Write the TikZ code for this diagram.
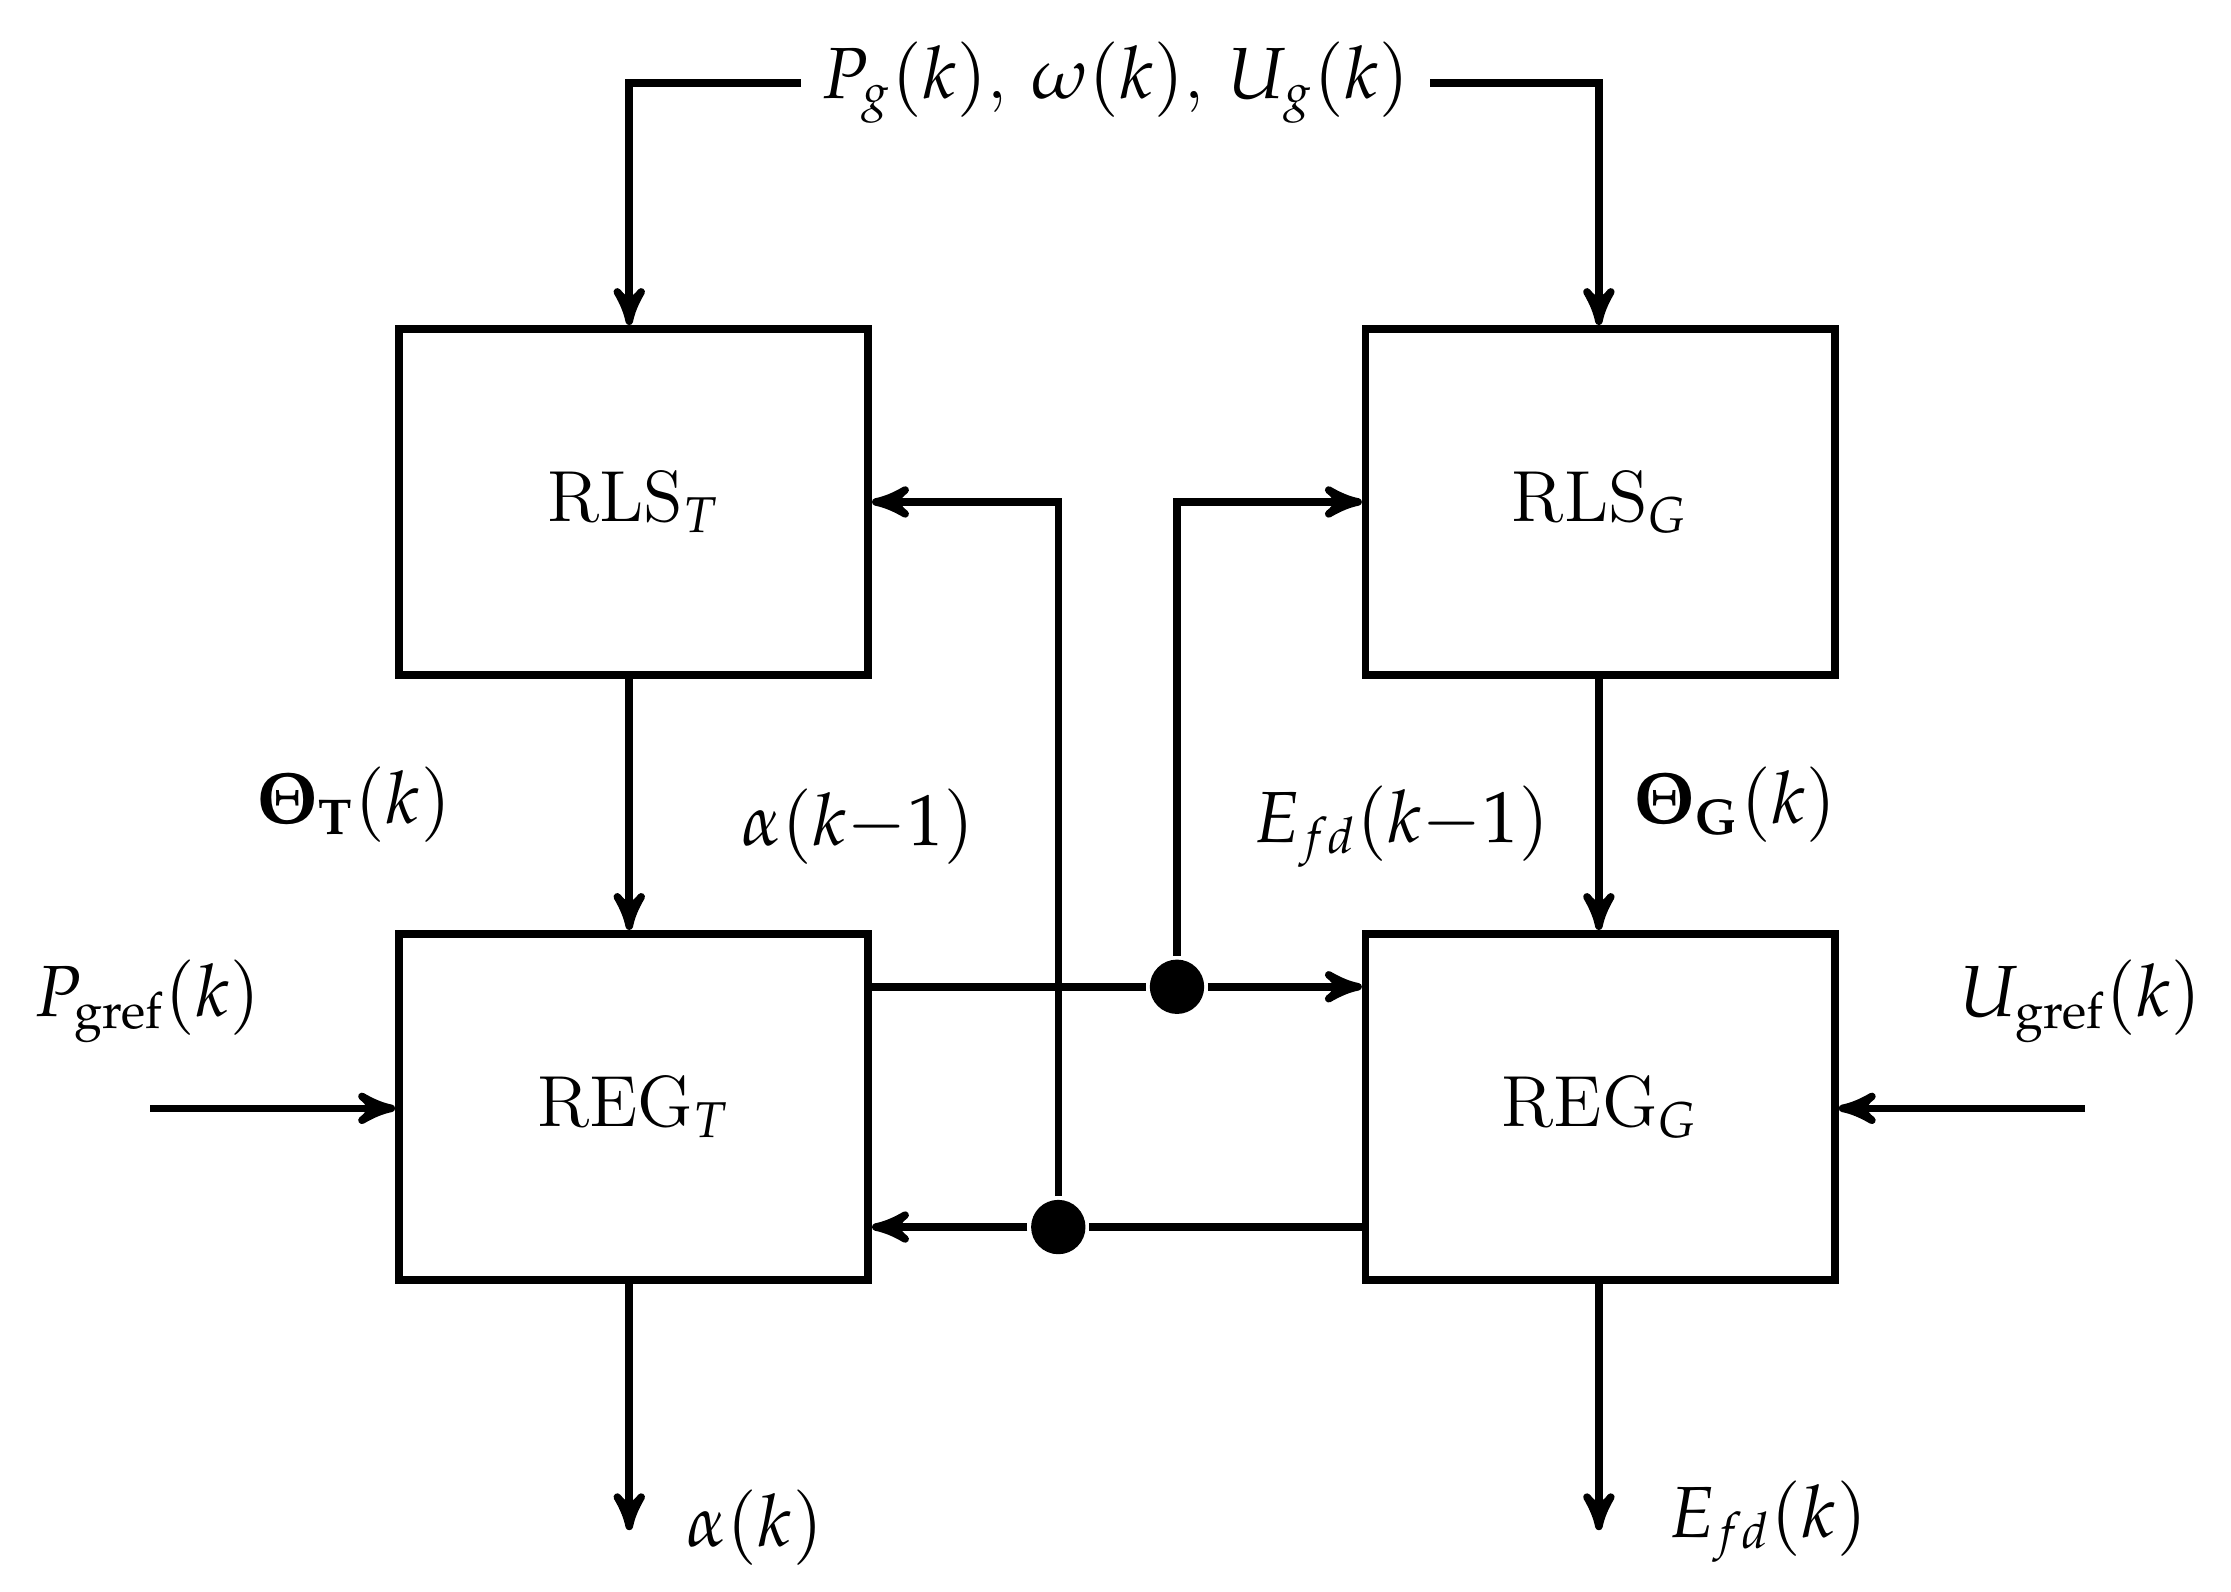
\documentclass[tikz,border=0pt]{standalone}
\usepackage{amsmath}
\usepackage{mathpazo}
\usepackage{bm}
\usetikzlibrary{arrows,positioning,calc}
\begin{document}
\begin{tikzpicture}[x=0.01cm,y=-0.01cm,line width=1.5pt,>=stealth',font=\fontsize{14.4}{17}\selectfont]
	\tikzstyle{block}=[draw,minimum width=3.28cm,minimum height=2.42cm,inner sep=0pt]
	\tikzstyle{dot}=[circle,fill,inner sep=0pt,minimum size=0.38cm]
	\useasboundingbox (0,0) rectangle (1560,1113);
	
	\node[block](rlst) at (443,351){RLS$_T$};
	\node[block](rlsg) at (1119,351){RLS$_G$};
	\node[block](regt) at (443,774){REG$_T$};
	\node[block](regg) at (1119,774){REG$_G$};
	\node(in) at (780,58){$P_g(k)$, $\omega(k)$, $U_g(k)$};
	\node(pref) at (103,700){$P_{\mathrm{gref}}(k)$};
	\node(uref) at (1455,700){$U_{\mathrm{gref}}(k)$};
	\coordinate(pin) at (105,775);
	\coordinate(uin) at (1458,775);
	\coordinate(aout) at (440,1070);
	\coordinate(eout) at (1118,1070);
	\node[dot](d1) at (823,690){};
	\node[dot](d2) at (740,858){};
	
	\draw[->] (in.west) -| (rlst.north -| aout);
	\draw[->] (in.east) -| (rlsg.north -| eout);
	\draw[->] (rlst.south -| aout) -- node[left=1.1cm]{$\bm{\Theta}_{\mathbf{T}}(k)$} (regt.north -| aout);
	\draw[->] (rlsg.south -| eout) -- node[right=0.1cm]{$\bm{\Theta}_{\mathbf{G}}(k)$} (regg.north -| eout);
	\draw (regt.east |- d1) -- (d1);
	\draw[->] (d1) -- (regg.west |- d1);
	\draw[->] (d1) |- (rlsg.west);
	\draw (regg.west |- d2) -- (d2);
	\draw[->] (d2) -- (regt.east |- d2);
	\draw[->] (d2) |- (rlst.east);
	\draw[->] (pin) -- (regt.west |- pin);
	\draw[->] (uin) -- (regg.east |- uin);
	\draw[->] (regt.south -| aout) -- (aout);
	\draw[->] (regg.south -| eout) -- (eout);
	\node at (600,578){$\alpha(k{-}1)$};
	\node at (980,578){$E_{fd}(k{-}1)$};
	\node at (528,1068){$\alpha(k)$};
	\node at (1236,1064){$E_{fd}(k)$};
\end{tikzpicture}
\end{document}
